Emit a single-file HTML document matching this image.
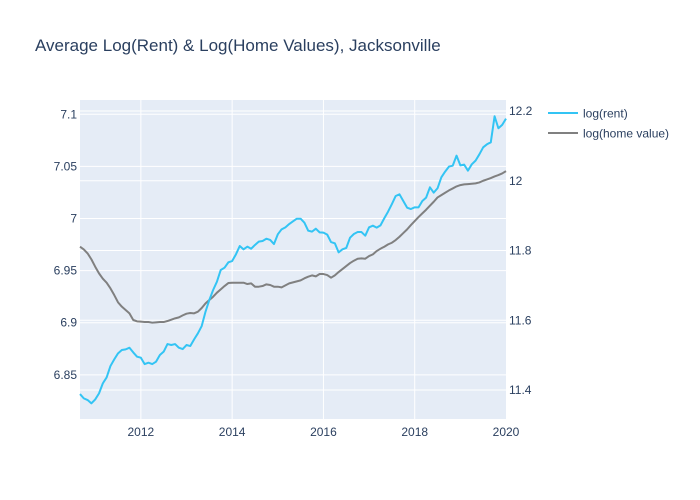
<!DOCTYPE html>
<html><head><meta charset="utf-8">
<style>
html,body{margin:0;padding:0;background:#fff;}
svg{display:block;font-family:"Liberation Sans",Arial,sans-serif;}
</style></head>
<body>
<svg id="chart" width="700" height="500">
<rect width="700" height="500" fill="#fff"/>
<text x="35" y="51" font-size="17" fill="#2a3f5f">Average Log(Rent) &amp; Log(Home Values), Jacksonville</text>
<rect x="80" y="100" width="426" height="319" fill="#e5ecf6"/>
<g id="grid"></g>
<g id="lines"></g>
<g id="axes"></g>
<g>
<g>
<line x1="548" y1="113" x2="578" y2="113" stroke="#33c4f4" stroke-width="2"/>
<text x="583" y="117.5" font-size="12" fill="#2a3f5f">log(rent)</text></g>
<g>
<line x1="548" y1="133" x2="578" y2="133" stroke="#808080" stroke-width="2"/>
<text x="583" y="137.5" font-size="12" fill="#2a3f5f">log(home value)</text></g>
</g>
</svg>
<script>
const startYear = 2010 + 8/12;
const rentValues = [6.8315,6.8274,6.8258,6.8226,6.8264,6.8322,6.8418,6.8475,6.8584,6.8648,
6.8706,6.8738,6.8744,6.8760,6.8715,6.8674,6.8664,6.8603,6.8616,6.8603,
6.8626,6.8690,6.8722,6.8795,6.8786,6.8795,6.8760,6.8747,6.8786,6.8776,
6.8840,6.8898,6.8968,6.9106,6.9218,6.9314,6.9394,6.9506,6.9528,6.9579,
6.9592,6.9656,6.9736,6.9704,6.9730,6.9710,6.9746,6.9778,6.9784,6.9806,
6.9794,6.9755,6.9848,6.9896,6.9915,6.9947,6.9973,6.9998,6.9998,6.9960,
6.9883,6.9874,6.9902,6.9867,6.9864,6.9845,6.9774,6.9762,6.9675,6.9704,
6.9717,6.9816,6.9851,6.9870,6.9870,6.9835,6.9915,6.9931,6.9912,6.9934,
7.0002,7.0066,7.0139,7.0216,7.0232,7.0168,7.0104,7.0091,7.0107,7.0107,
7.0168,7.0200,7.0299,7.0248,7.0290,7.0395,7.0450,7.0498,7.0507,7.0603,
7.0510,7.0517,7.0459,7.0520,7.0555,7.0616,7.0683,7.0712,7.0731,7.0981,
7.0866,7.0898,7.0958];
const homeValues = [11.8109,11.8032,11.7918,11.7746,11.7536,11.7345,11.7192,11.7077,11.6915,11.6724,
11.6514,11.6390,11.6294,11.6199,11.6008,11.5969,11.5960,11.5950,11.5950,11.5931,11.5941,11.5950,11.5950,
11.5979,11.6017,11.6055,11.6084,11.6141,11.6189,11.6208,11.6199,
11.6246,11.6352,11.6485,11.6581,11.6676,11.6791,11.6886,11.6982,11.7068,11.7077,11.7077,
11.7077,11.7077,11.7039,11.7058,11.6963,11.6963,11.6982,11.7030,11.7011,11.6963,
11.6963,11.6944,11.7001,11.7058,11.7087,11.7116,11.7144,11.7202,11.7249,11.7287,
11.7259,11.7326,11.7326,11.7297,11.7221,11.7287,11.7383,11.7469,11.7555,11.7641,
11.7708,11.7765,11.7775,11.7765,11.7841,11.7889,11.7985,11.8052,11.8109,11.8176,
11.8223,11.8300,11.8395,11.8500,11.8606,11.8730,11.8844,11.8959,11.9064,11.9169,
11.9284,11.9398,11.9522,11.9589,11.9656,11.9723,11.9780,11.9838,11.9876,11.9895,11.9905,
11.9914,11.9924,11.9952,12.0000,12.0038,12.0076,12.0124,12.0162,12.0210,12.0277];
const xTicks = [2012,2014,2016,2018,2020];
const leftTicks = [6.85,6.9,6.95,7,7.05,7.1];
const leftTickLabels = ["6.85","6.9","6.95","7","7.05","7.1"];
const rightTicks = [11.4,11.6,11.8,12,12.2];
const rightTickLabels = ["11.4","11.6","11.8","12","12.2"];

const NS="http://www.w3.org/2000/svg";
const L=80,R=506,T=100,B=419;
const xMin=startYear, xMax=2020.0;
const yLMin=6.8076, yLMax=7.1137;
const yRMin=11.317, yRMax=12.2315;
const xs=v=>L+(v-xMin)/(xMax-xMin)*(R-L);
const yl=v=>B-(v-yLMin)/(yLMax-yLMin)*(B-T);
const yr=v=>B-(v-yRMin)/(yRMax-yRMin)*(B-T);
function mk(tag,attrs,parent){const e=document.createElementNS(NS,tag);for(const k in attrs)e.setAttribute(k,attrs[k]);parent.appendChild(e);return e;}
const grid=document.getElementById('grid'),axes=document.getElementById('axes'),lines=document.getElementById('lines');
xTicks.forEach(t=>{
 const x=xs(t);
 if(x>L+1&&x<R-1){const g=mk('line',{x1:x,x2:x,y1:T,y2:B,stroke:'#fff','stroke-width':1},grid);
 
 }
 const tx=mk('text',{x:x,y:B+17,'font-size':12,fill:'#2a3f5f','text-anchor':'middle'},axes);
 tx.textContent=String(t);
 
 
});
leftTicks.forEach((t,i)=>{
 const y=yl(t);
 const g=mk('line',{x1:L,x2:R,y1:y,y2:y,stroke:'#fff','stroke-width':1},grid);
 
 
 const tx=mk('text',{x:L-3,y:y+4,'font-size':12,fill:'#2a3f5f','text-anchor':'end'},axes);
 tx.textContent=leftTickLabels[i];
 
 
});
rightTicks.forEach((t,i)=>{
 const y=yr(t);
 const g=mk('line',{x1:L,x2:R,y1:y,y2:y,stroke:'#fff','stroke-width':1},grid);
 
 
 const tx=mk('text',{x:R+3,y:y+4,'font-size':12,fill:'#2a3f5f','text-anchor':'start'},axes);
 tx.textContent=rightTickLabels[i];
 
 
});
function drawSeries(vals,yf,color,name){
 const pts=vals.map((v,i)=>xs(startYear+i/12).toFixed(2)+','+yf(v).toFixed(2)).join(' ');
 const p=mk('polyline',{points:pts,fill:'none',stroke:color,'stroke-width':2,'stroke-linejoin':'round'},lines);
 
 
}
drawSeries(homeValues,yr,'#808080','home-value-line');
drawSeries(rentValues,yl,'#33c4f4','rent-line');
</script>
</body></html>
